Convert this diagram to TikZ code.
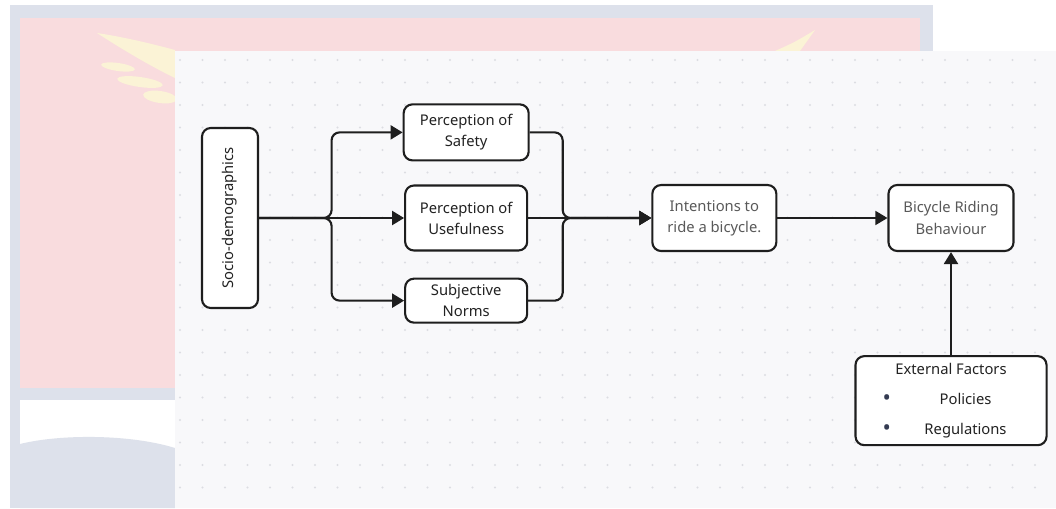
\documentclass[tikz,border=0pt]{standalone}
\usepackage{fontspec}
\setmainfont{Noto Sans}
\usepackage{xcolor}
\definecolor{canvasBg}{HTML}{F8F8FA}
\definecolor{canvasDot}{HTML}{DCDDE2}
\definecolor{frameBlue}{HTML}{DDE1EB}
\definecolor{flagPink}{HTML}{F9DCDE}
\definecolor{flagSun}{HTML}{FBF3D6}
\definecolor{boxLine}{HTML}{1E1E1E}
\definecolor{textDark}{HTML}{222222}
\definecolor{textGray}{HTML}{595959}
\definecolor{bulletNavy}{HTML}{343B52}
\usepackage{tikz}
\usetikzlibrary{arrows.meta,positioning,calc}
\tikzset{
    box/.style={
        draw=boxLine,
        fill=white,
        rectangle,
        rounded corners=2.2mm,
        align=center,
        line width=1.5pt,
        inner sep=2pt,
        text=textDark,
        font=\fontsize{10.5}{15}\selectfont
    },
    link/.style={
        -{Triangle[length=3mm,width=3.5mm]},
        line width=1.5pt,
        color=boxLine,
        rounded corners=2mm
    },
    thinlink/.style={
        link,
        line width=1.1pt
    }
}
\newcommand{\itemdot}{\raisebox{-0.8pt}{\textcolor{bulletNavy}{\scalebox{1.5}{\textbullet}}}}

\begin{document}
\begin{tikzpicture}[x=0.025cm, y=-0.025cm]
    \useasboundingbox (0,0) rectangle (1056,508);

    % Faded background behind the canvas
    \fill[frameBlue] (10,5) rectangle (933,508);
    \fill[flagPink] (20,18) rectangle (920,388);
    \fill[white] (20,400) rectangle (920,452);
    \fill[frameBlue] (20,444) .. controls (60,434) and (130,434) .. (175,448) -- (175,508) -- (20,508) -- cycle;
    \fill[flagSun] (97,33) .. controls (130,38) and (160,46) .. (175,50) -- (175,78) .. controls (150,66) and (120,48) .. cycle;
    \fill[flagSun, rotate around={-8:(118,67)}] (118,67) ellipse (17 and 4);
    \fill[flagSun, rotate around={-8:(140,82)}] (140,82) ellipse (23 and 5);
    \fill[flagSun, rotate around={-8:(160,97)}] (160,97) ellipse (17 and 6);
    \fill[flagSun] (775,51) .. controls (795,42) .. (815,30) -- (800,51) -- cycle;

    % Dotted canvas
    \fill[canvasBg] (175,51) rectangle (1056,508);
    \foreach \i in {0,...,38}
        \foreach \j in {0,...,19}
            \fill[canvasDot] ({180+22.5*\i},{60+22.5*\j}) circle (1.2);

    % Left - socio-demographics
    \node[box, minimum width=1.4cm, minimum height=4.5cm] (socio) at (230,218) {\rotatebox{90}{Socio-demographics}};

    % Middle column - perceptions and norms
    \node[box, right=3.625cm of socio, minimum width=3.05cm, minimum height=1.625cm] (useful) {Perception of\\Usefulness};
    \node[box, above=0.575cm of useful, minimum width=3.125cm, minimum height=1.4cm] (safety) {Perception of\\Safety};
    \node[box, below=0.65cm of useful, minimum width=3.05cm, minimum height=1.1cm] (norms) {Subjective\\Norms};

    % Right - intention and behaviour
    \node[box, right=3.075cm of useful, minimum width=3.1cm, minimum height=1.65cm, text=textGray] (intent) {Intentions to\\ride a bicycle.};
    \node[box, right=2.75cm of intent, minimum width=3.125cm, minimum height=1.65cm, text=textGray] (bike) {Bicycle Riding\\Behaviour};

    % Bottom right - external factors
    \node[box, below=2.575cm of bike, minimum width=4.775cm, minimum height=2.225cm] (ext)
        {External Factors\\[6pt]
         \makebox[0.725cm][l]{\itemdot}\makebox[2.7cm]{Policies}\\[6pt]
         \makebox[0.725cm][l]{\itemdot}\makebox[2.7cm]{Regulations}};

    % Junction points
    \coordinate (split) at ($(socio.east)!0.5!(useful.west)$);
    \coordinate (merge) at ($(useful.east)!0.28!(intent.west)$);

    % Connections
    \draw[link] (socio.east) -- (useful.west);
    \draw[link] (socio.east) -- (split) |- (safety.west);
    \draw[link] (socio.east) -- (split) |- (norms.west);
    \draw[link] (useful.east) -- (intent.west);
    \draw[link] (safety.east) -| (merge) -- (intent.west);
    \draw[link] (norms.east) -| (merge) -- (intent.west);
    \draw[thinlink] (intent) -- (bike);
    \draw[link] (ext) -- (bike);
\end{tikzpicture}
\end{document}
